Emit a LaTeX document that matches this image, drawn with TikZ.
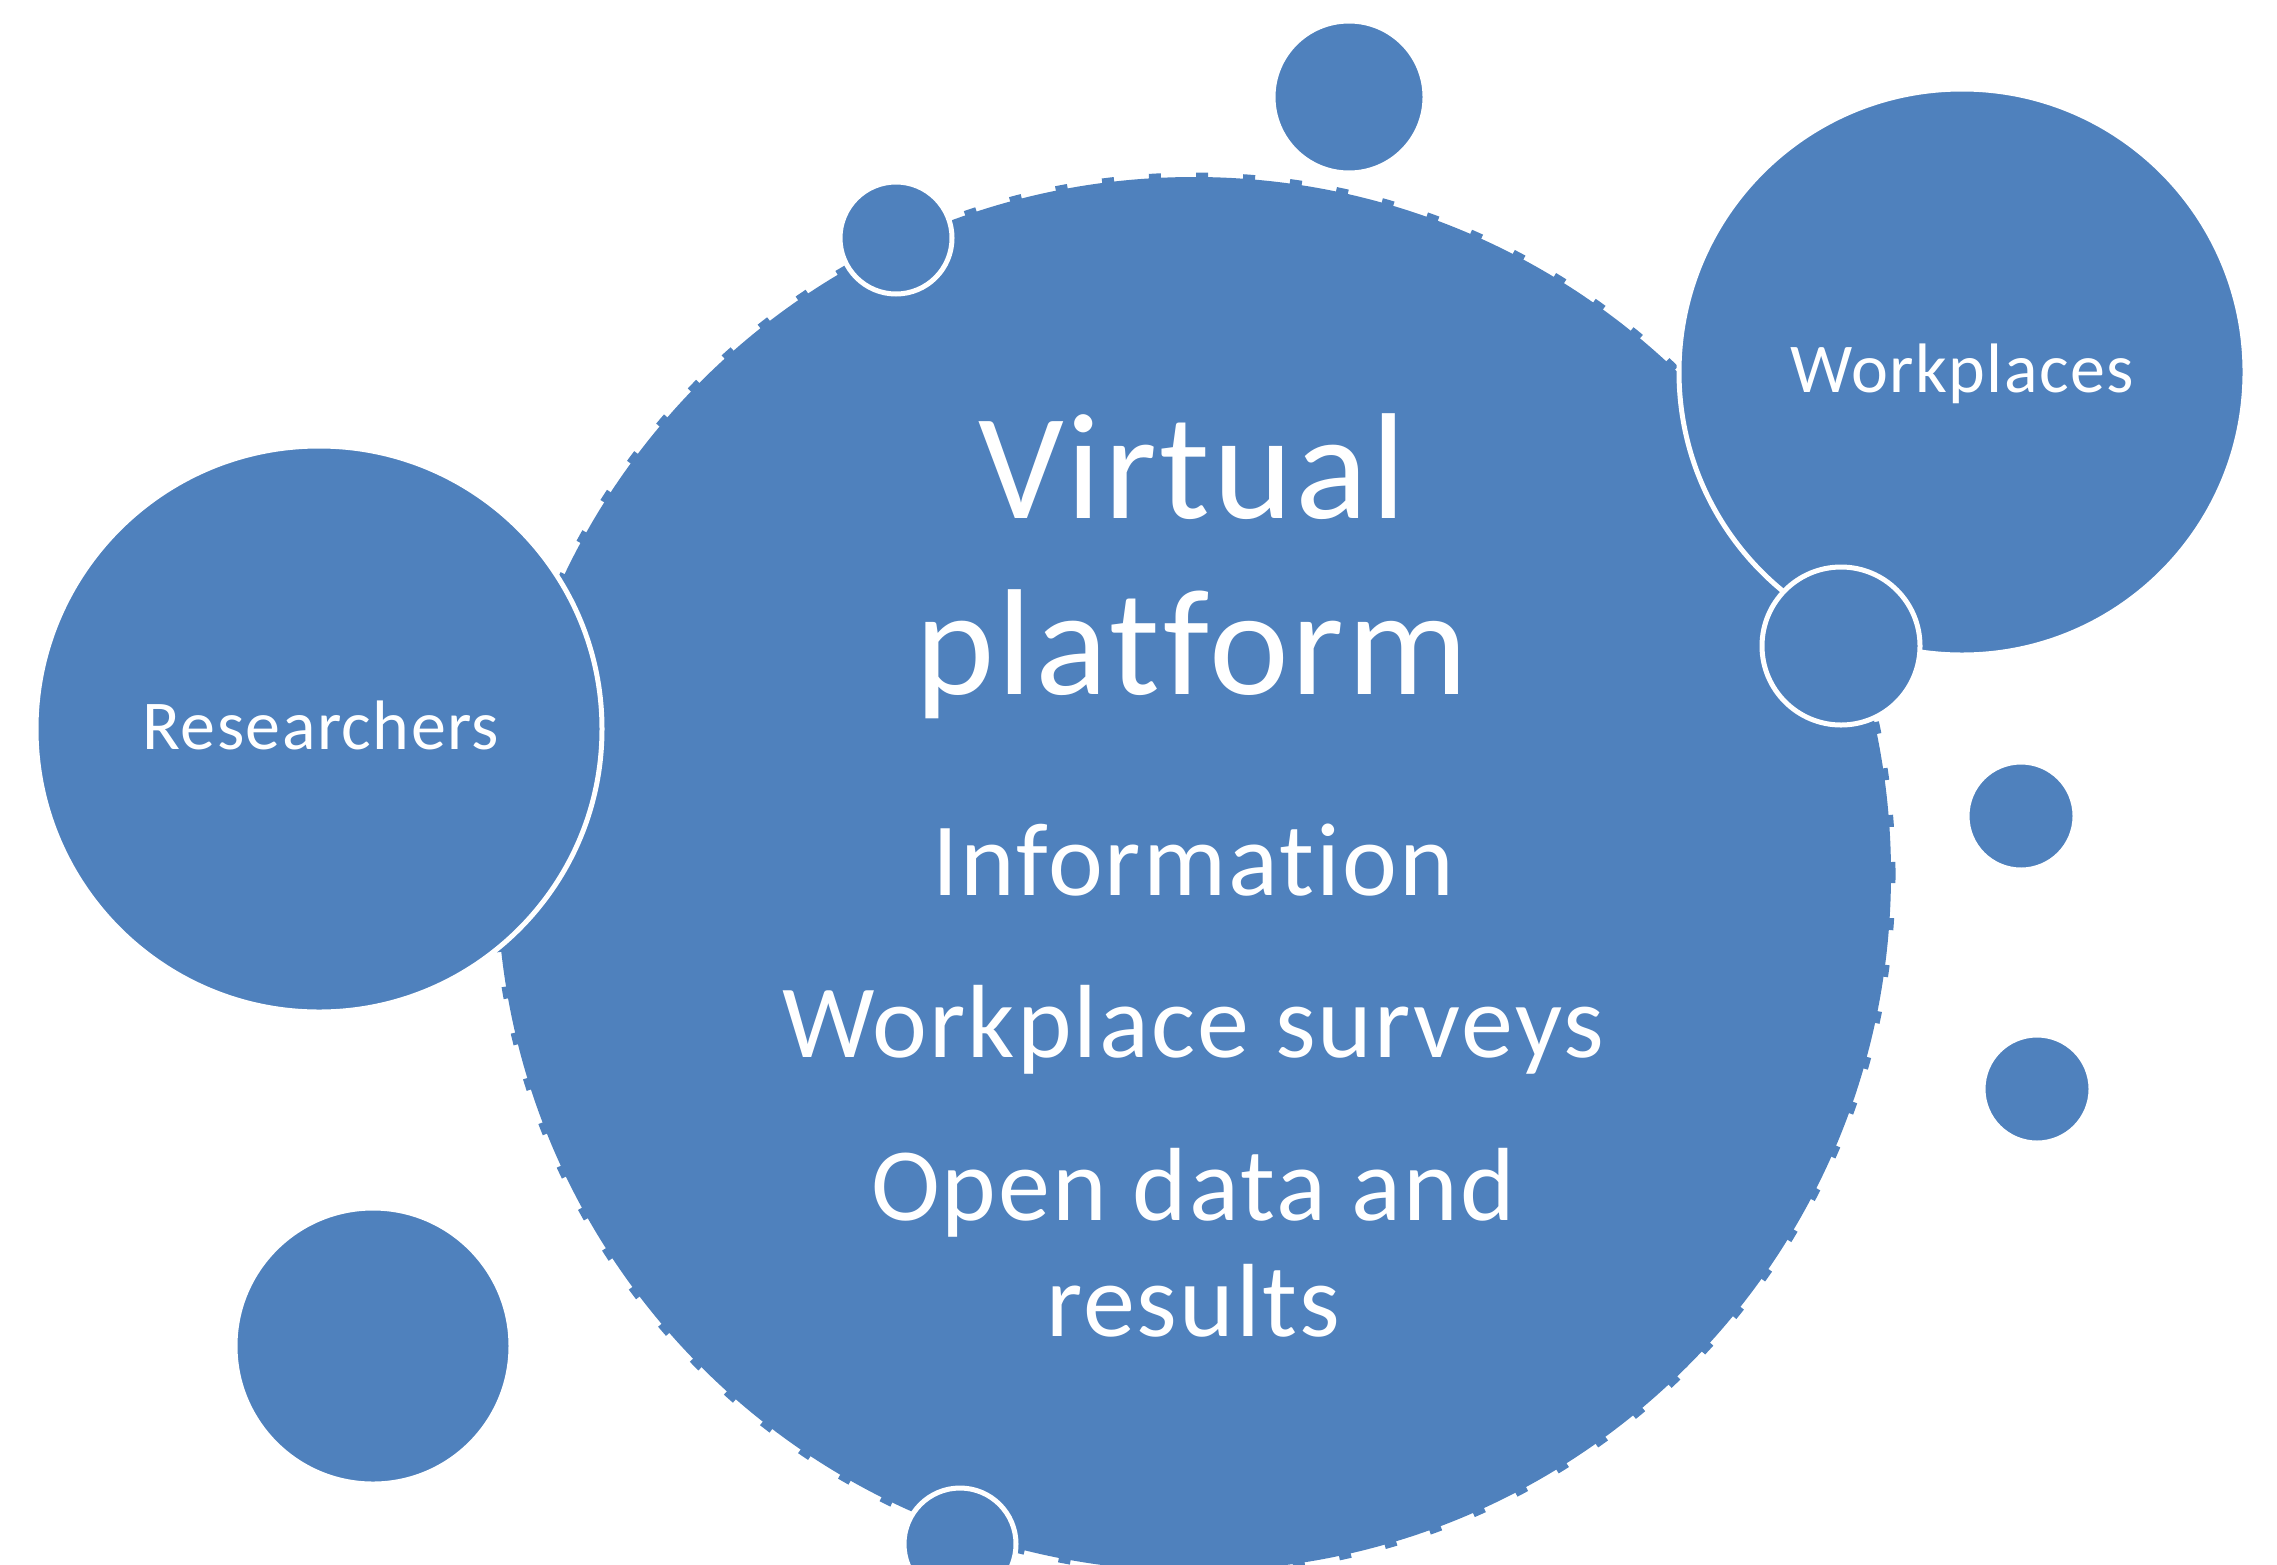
\documentclass[tikz,border=0pt]{standalone}
\usepackage{fontspec}
\setmainfont{Carlito}[Ligatures={NoCommon},LetterSpace=2]
\definecolor{ofblue}{HTML}{4F81BD}
\begin{document}
\begin{tikzpicture}[x=1pt,y=-1pt,
  bub/.style={circle,inner sep=0pt,outer sep=0pt,fill=ofblue,draw=white,line width=5pt,minimum size=#1},
  big/.style={circle,inner sep=0pt,outer sep=0pt,fill=ofblue,draw=ofblue,line width=9pt,dash pattern=on 12pt off 35pt,minimum size=#1},
  wtxt/.style={text=white,anchor=base,inner sep=0pt,font=\fontsize{#1}{#1}\selectfont}]
\useasboundingbox (0,0) rectangle (2277,1564);
% main platform circle
\node[big=1394pt] (platform) at (1194,874) {};
% surrounding bubbles
\node[bub=566pt] (researchers) at (319,729) {};
\node[bub=566pt] (workplaces) at (1962,372) {};
\node[bub=152pt] (btop) at (1349,97) {};
\node[bub=112pt] (bsmall) at (896,238) {};
\node[bub=158pt] (bjoin) at (1841,646) {};
\node[bub=108pt] (bright1) at (2021,816) {};
\node[bub=108pt] (bright2) at (2037,1089) {};
\node[bub=276pt] (bleft) at (373,1346) {};
\node[bub=112pt] (bbottom) at (960,1544) {};
% texts
\node[wtxt=151] (t1) at (1192,518) {Virtual};
\node[wtxt=151] (t2) at (1192,694) {platform};
\node[wtxt=104] (t3) at (1193,895) {Information};
\node[wtxt=104] (t4) at (1193,1057) {Workplace surveys};
\node[wtxt=104] (t5) at (1193,1220) {Open data and};
\node[wtxt=104] (t6) at (1193,1336) {results};
\node[wtxt=70] (t7) at (321,749) {Researchers};
\node[wtxt=70] (t8) at (1962,392) {Workplaces};
\end{tikzpicture}
\end{document}
